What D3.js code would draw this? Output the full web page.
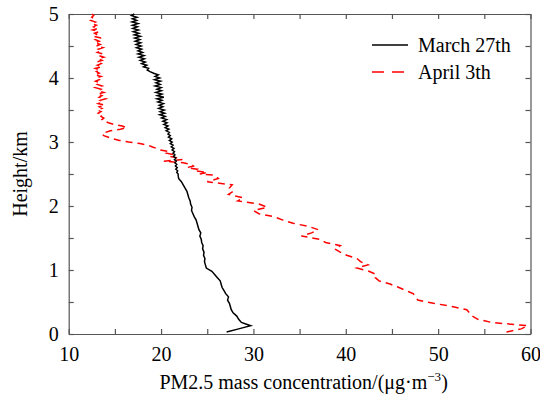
<!DOCTYPE html>
<html><head><meta charset="utf-8">
<script src="https://cdn.jsdelivr.net/npm/d3@7"></script>
<style>
body{margin:0;background:#fff;}
text{font-family:"Liberation Serif","Times New Roman",serif;}
</style></head>
<body><svg id="c" width="540" height="397"></svg>
<script>
const heights = [0.03,0.08,0.13,0.18,0.23,0.28,0.33,0.38,0.43,0.48,0.53,0.58,0.63,0.68,0.73,0.78,0.83,0.88,0.93,0.98,
1.03,1.08,1.13,1.18,1.23,1.28,1.33,1.38,1.43,1.48,1.53,1.58,1.63,1.68,1.73,1.78,1.83,1.88,1.93,1.98,
2.03,2.08,2.13,2.18,2.23,2.28,2.33,2.38,2.43,2.48,
2.5,2.525,2.55,2.575,2.6,2.625,2.65,2.675,2.7,2.725,
2.75,2.775,2.8,2.825,2.85,2.875,2.9,2.925,2.95,2.975,
3.0,3.025,3.05,3.075,3.1,3.125,3.15,3.175,3.2,3.225,
3.25,3.275,3.3,3.325,3.35,3.375,3.4,3.425,3.45,3.475,
3.5,3.525,3.55,3.575,3.6,3.625,3.65,3.675,3.7,3.725,
3.75,3.775,3.8,3.825,3.85,3.875,3.9,3.925,3.95,3.975,
4.0,4.025,4.05,4.075,4.1,4.125,4.15,4.175,4.2,4.225,
4.25,4.275,4.3,4.325,4.35,4.375,4.4,4.425,4.45,4.475,
4.5,4.525,4.55,4.575,4.6,4.625,4.65,4.675,4.7,4.725,
4.75,4.775,4.8,4.825,4.85,4.875,4.9,4.925,4.95,4.975,5.0];
const march27 = [27.1,28.4,29.7,28.7,28.4,28.2,27.8,27.6,27.5,27.4,27.2,27.3,27.0,26.8,26.6,26.5,26.4,26.1,25.8,25.5,
24.9,24.8,24.7,24.75,24.6,24.65,24.5,24.55,24.4,24.35,24.2,24.3,24.1,24.0,23.9,23.8,23.6,23.45,23.3,23.35,
23.2,23.15,23.0,22.9,22.8,22.6,22.4,22.2,21.9,21.85,
21.85,21.7,21.8,21.6,21.75,21.55,21.7,21.5,21.65,21.45,
21.6,21.35,21.5,21.3,21.45,21.2,21.4,21.1,21.3,21.0,
21.2,20.9,21.15,20.8,21.0,20.75,20.9,20.55,20.85,20.45,
20.75,20.3,20.65,20.2,20.6,20.05,20.45,19.85,20.4,19.9,
20.35,19.75,20.2,19.8,20.25,19.65,20.1,19.55,20.3,19.6,
20.1,19.45,20.05,19.55,20.0,19.35,19.9,19.45,19.95,19.3,
19.85,19.35,19.7,19.2,18.8,18.5,18.65,18.1,18.45,17.9,
18.3,17.75,18.2,17.6,18.15,17.5,18.0,17.5,17.9,17.35,
17.85,17.3,17.8,17.2,17.7,17.15,17.75,17.1,17.6,17.0,
17.55,16.95,17.45,16.9,17.5,16.85,17.35,16.9,17.4,16.8,17.1];
const april3 = [57.4,59.0,59.7,55.8,54.3,53.7,53.4,53.1,51.5,49.5,47.8,47.6,47.3,46.5,45.7,44.8,43.6,43.2,43.3,42.5,
41.2,42.4,41.6,41.2,40.1,39.4,38.8,39.4,37.8,37.2,35.2,36.3,37.0,36.0,34.3,33.2,32.3,30.6,30.0,31.5,
30.6,28.3,28.9,27.3,27.8,27.4,27.7,25.0,26.2,25.8,
24.2,25.0,23.6,23.9,22.8,23.5,23.3,22.4,20.3,22.3,
21.8,21.0,21.4,20.6,20.9,19.9,19.5,19.0,18.6,17.7,
16.5,15.5,14.8,14.3,13.8,13.6,14.0,14.5,15.6,16.3,
15.8,14.9,14.3,13.9,13.6,13.8,13.5,13.7,13.2,13.5,
13.1,13.6,13.3,13.9,13.2,13.7,13.4,14.0,13.3,13.6,
13.1,13.8,13.2,13.5,12.9,13.6,13.1,13.4,12.9,13.3,
13.0,13.5,12.8,13.3,13.0,13.4,12.9,13.6,13.1,13.5,
13.0,13.6,13.2,13.8,13.3,13.7,13.1,13.5,13.2,13.7,
13.0,13.4,12.8,13.3,12.9,13.5,12.7,13.1,12.8,13.3,
12.6,13.2,12.7,13.0,12.5,12.9,12.4,12.8,12.5,12.7,12.5];
const xTicks = [10,15,20,25,30,35,40,45,50,55,60];
const yTicks = [0,0.5,1,1.5,2,2.5,3,3.5,4,4.5,5];
const seriesNames = ["March 27th","April 3th"];

const svg = d3.select("#c");
const L=68.7,R=530.5,T=14,B=334;
const x = d3.scaleLinear([10,60],[L,R]);
const y = d3.scaleLinear([0,5],[B,T]);
const axColor="#555";

function style(g){
  g.selectAll("path,line").attr("stroke",axColor).attr("stroke-width",1.2);
  g.selectAll("text").attr("font-family","Liberation Serif, Times New Roman, serif").attr("font-size",20).attr("fill","#000");
}
svg.append("g").attr("transform",`translate(0,${B})`)
  .call(d3.axisBottom(x).tickValues(xTicks).tickSizeInner(-5).tickSizeOuter(0).tickPadding(13)
    .tickFormat(d=>d%10===0?d:"")).call(style);
svg.append("g").attr("transform",`translate(0,${T})`)
  .call(d3.axisTop(x).tickValues(xTicks).tickSizeInner(-5).tickSizeOuter(0).tickFormat("")).call(style);
svg.append("g").attr("transform",`translate(${L},0)`)
  .call(d3.axisLeft(y).tickValues(yTicks).tickSizeInner(-5).tickSizeOuter(0).tickPadding(10)
    .tickFormat(d=>Number.isInteger(d)?d:"")).call(style);
svg.append("g").attr("transform",`translate(${R},0)`)
  .call(d3.axisRight(y).tickValues(yTicks).tickSizeInner(-5).tickSizeOuter(0).tickFormat("")).call(style);

svg.append("clipPath").attr("id","clip").append("rect").attr("x",L).attr("y",T-2).attr("width",R-L).attr("height",B-T+2);

const line = d3.line().x(d=>x(d[0])).y(d=>y(d[1]));
const plot = svg.append("g").attr("clip-path","url(#clip)");
plot.append("path").datum(april3.map((v,i)=>[v,heights[i]]))
  .attr("d",line).attr("fill","none").attr("stroke","#ff0000").attr("stroke-width",1.5).attr("stroke-dasharray","7,5");
plot.append("path").datum(march27.map((v,i)=>[v,heights[i]]))
  .attr("d",line).attr("fill","none").attr("stroke","#000").attr("stroke-width",1.5);

// legend
const lg = svg.append("g");
[{c:"#000",d:null,yy:45},{c:"#ff0000",d:"12,8",yy:72}].forEach((s,i)=>{
  lg.append("line").attr("x1",372).attr("x2",408).attr("y1",s.yy).attr("y2",s.yy)
    .attr("stroke",s.c).attr("stroke-width",1.5).attr("stroke-dasharray",s.d);
  lg.append("text").attr("x",418).attr("y",s.yy+7).attr("font-size",20).text(seriesNames[i]);
});

// axis titles
const xt = svg.append("text").attr("x",(L+R)/2+4).attr("y",389).attr("text-anchor","middle").attr("font-size",20);
xt.append("tspan").text("PM2.5 mass concentration/(μg·m");
xt.append("tspan").attr("font-size",13).attr("dy",-8).text("−3");
xt.append("tspan").attr("dy",8).text(")");
svg.append("text").attr("transform",`translate(27,${(T+B)/2}) rotate(-90)`).attr("text-anchor","middle")
  .attr("font-size",20).text("Height/km");
</script></body></html>
